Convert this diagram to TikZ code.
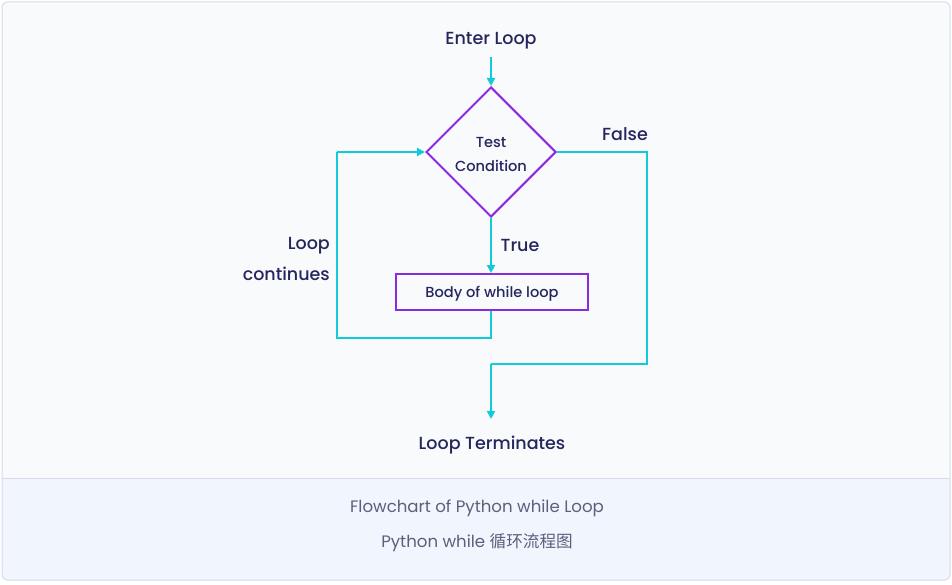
\documentclass[tikz,border=0pt]{standalone}
\usepackage{fontspec}
\setmainfont{Poppins}
\newfontfamily\med{Poppins Medium}
\newfontfamily\cjk{Noto Sans CJK SC}
\usetikzlibrary{arrows.meta,shapes.geometric}
\definecolor{navy}{HTML}{25265E}
\definecolor{cyanline}{HTML}{10CCD8}
\definecolor{purp}{HTML}{8A2BE2}
\definecolor{topbg}{HTML}{F9FAFC}
\definecolor{botbg}{HTML}{F1F5FD}
\definecolor{framecol}{HTML}{D3DCE8}
\definecolor{captxt}{HTML}{5E5F7E}
\tikzset{
  lbl/.style={text=navy, font=\med\fontsize{17.5}{20}\selectfont, inner sep=0pt},
  small/.style={text=navy, font=\med\fontsize{14.6}{17}\selectfont, inner sep=0pt},
  conn/.style={draw=cyanline, line width=2pt, -{Triangle[length=8pt,width=8pt]}},
  plain/.style={draw=cyanline, line width=2pt},
  shapeline/.style={draw=purp, line width=2pt, fill=topbg},
  captext/.style={text=captxt, font=\fontsize{16.6}{19}\selectfont, inner sep=0pt}
}
\begin{document}
\begin{tikzpicture}[x=1pt,y=-1pt]
\useasboundingbox (0,0) rectangle (952,585);
% frame
\fill[botbg, rounded corners=5pt] (2,2) rectangle (950,580);
\begin{scope}
\clip (2,2) rectangle (950,478);
\fill[topbg, rounded corners=5pt] (2,2) rectangle (950,520);
\end{scope}
\draw[framecol, line width=1pt] (2,478) -- (950,478);
\draw[framecol, line width=1pt, rounded corners=5pt] (2,2) rectangle (950,580);

% nodes
\node[lbl] (enter) at (491,41) {Enter Loop};
\node[shapeline, diamond, minimum width=130pt, minimum height=130pt, inner sep=0pt] (cond) at (491,152) {};
\node[small] (t1) at (491,142) {Test};
\node[small] (t2) at (491,166) {Condition};
\node[shapeline, rectangle, minimum width=192pt, minimum height=36pt, inner sep=0pt] (body) at (492,292) {};
\node[small] (btxt) at (492,294) {Body of while loop};
\node[lbl] (term) at (492,445) {Loop Terminates};
\node[lbl] (false) at (625,134) {False};
\node[lbl] (true) at (520,245) {True};
\node[lbl, anchor=east] (lc1) at (330,246) {Loop};
\node[lbl, anchor=east] (lc2) at (330,274) {continues};

\coordinate (entertop) at (491,57);
\coordinate (r1) at (647,152);
\coordinate (r2) at (647,364);
\coordinate (r3) at (491,364);
\coordinate (termtop) at (491,419);
\coordinate (l1) at (491,338);
\coordinate (l2) at (337,338);
\coordinate (l3) at (337,152);

% connectors
\draw[conn] (entertop) -- (cond.north);
\draw[conn] (cond.south) -- (body.north -| cond.south);
\draw[plain] (cond.east) -- (r1) -- (r2) -- (r3);
\draw[conn] (r3) -- (termtop);
\draw[plain] (body.south -| l1) -- (l1) -- (l2) -- (l3);
\draw[conn] (l3) -- (cond.west);

% captions
\node[captext] (c1) at (477,508) {Flowchart of Python while Loop};
\node[captext] (c2) at (477,543) {Python while {\cjk 循环流程图}};
\end{tikzpicture}
\end{document}
